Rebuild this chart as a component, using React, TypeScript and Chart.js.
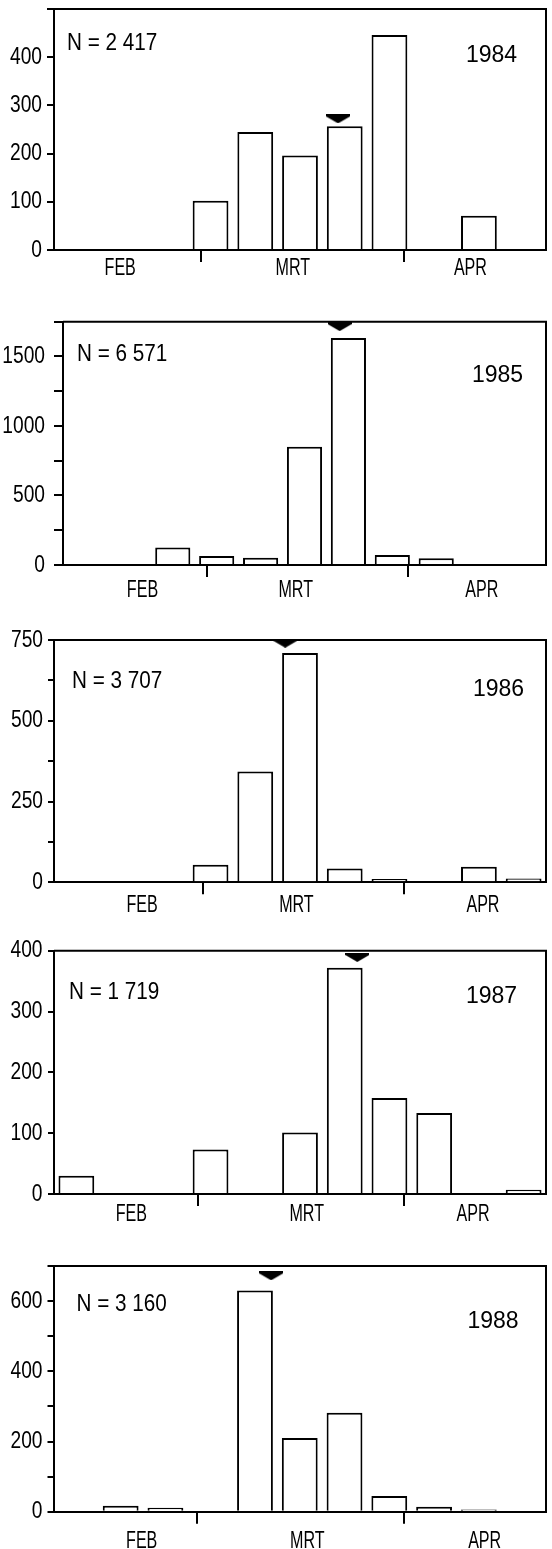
import React, { useEffect, useRef } from 'react';
import { Chart, registerables } from 'chart.js';

Chart.register(...registerables);

// ---------- data ----------
const weekSlots = [0, 1, 2, 3, 4, 5, 6, 7, 8, 9, 10];
const monthNames = ['FEB', 'MRT', 'APR'];
const years = ['1984', '1985', '1986', '1987', '1988'];
const totals = ['N = 2 417', 'N = 6 571', 'N = 3 707', 'N = 1 719', 'N = 3 160'];

const counts1984 = [0, 0, 0, 102, 245, 196, 257, 446, 0, 71, 0];
const counts1985 = [0, 0, 125, 65, 53, 850, 1633, 72, 48, 0, 0];
const counts1986 = [0, 0, 0, 54, 343, 710, 43, 10, 0, 48, 12];
const counts1987 = [30, 0, 0, 73, 0, 101, 372, 158, 133, 0, 7];
const counts1988 = [0, 17, 11, 0, 630, 210, 282, 45, 14, 6, 0];
const allCounts = [counts1984, counts1985, counts1986, counts1987, counts1988];

// arrow marker (position in week-slot units, level in counts)
const arrowSlot = [5.85, 5.8, 4.67, 6.28, 4.36];
const arrowLevel = [272, 1715, 740, 389, 672];

// y axes
const yMax = [500, 1750, 750, 400, 700];
const yTickStep = [100, 250, 125, 100, 100];
const yLabelStep = [100, 500, 250, 100, 200];
const yLabelMax = [400, 1500, 750, 400, 600];

// month axis: label positions and month boundaries (week-slot units)
const monthLabelSlots = [
  [0.98, 4.84, 8.81],
  [1.31, 4.8, 9.04],
  [1.47, 4.92, 9.09],
  [1.23, 5.15, 8.87],
  [1.47, 5.17, 9.13],
];
const monthBoundarySlots = [
  [2.79, 7.33],
  [2.77, 7.36],
  [2.83, 7.33],
  [2.71, 7.32],
  [2.71, 7.32],
];

// ---------- layout / style ----------
const panelLayout = [
  { top: 0, height: 295, areaTop: 9, areaBottom: 250, axisLeft: 54, yTickLen: 7, yPad: 5, xPad: -8, nDx: 13, nDy: 41, yrDx: 412, yrDy: 53 },
  { top: 295, height: 310, areaTop: 26.7, areaBottom: 270, axisLeft: 63, yTickLen: 9, yPad: 9, xPad: -1, nDx: 14, nDy: 39, yrDx: 409, yrDy: 60 },
  { top: 605, height: 315, areaTop: 35, areaBottom: 277.3, axisLeft: 54, yTickLen: 6, yPad: 5, xPad: -3, nDx: 18, nDy: 48, yrDx: 419, yrDy: 56 },
  { top: 920, height: 310, areaTop: 30.7, areaBottom: 274, axisLeft: 54, yTickLen: 6, yPad: 5.5, xPad: -6, nDx: 15, nDy: 48, yrDx: 412, yrDy: 52 },
  { top: 1230, height: 319, areaTop: 36, areaBottom: 281.7, axisLeft: 53.5, yTickLen: 6, yPad: 5, xPad: 3, nDx: 23, nDy: 45, yrDx: 414, yrDy: 62 },
];

const FONT = "'Liberation Sans', Arial, sans-serif";
const condenseFactor: Record<string, number> = { x: 0.67, y: 0.8 };

function makeArrow(w: number, h: number) {
  const c = document.createElement('canvas');
  c.width = w;
  c.height = h;
  const g = c.getContext('2d')!;
  g.fillStyle = '#000';
  g.beginPath();
  g.moveTo(0, 0);
  g.lineTo(w, 0);
  g.lineTo(w, 2);
  g.lineTo(w / 2, h);
  g.lineTo(0, 2);
  g.closePath();
  g.fill();
  return c;
}

// narrow (condensed) rendering of the axis tick labels, like the original typeface
const condensePlugin = {
  id: 'condense',
  afterUpdate(chart: any) {
    Object.values(chart.scales).forEach((scale: any) => {
      const k = condenseFactor[scale.id];
      if (!k || scale.__condensed) return;
      const proto = Object.getPrototypeOf(scale);
      scale.drawLabels = function (area: any) {
        const ctx = this.ctx;
        const fill = ctx.fillText;
        ctx.fillText = function (text: string, x: number, y: number, maxWidth?: number) {
          this.save();
          this.translate(x, y);
          this.scale(k, 1);
          if (maxWidth === undefined) fill.call(this, text, 0, 0);
          else fill.call(this, text, 0, 0, maxWidth / k);
          this.restore();
        };
        try {
          proto.drawLabels.call(this, area);
        } finally {
          ctx.fillText = fill;
        }
      };
      scale.__condensed = true;
    });
  },
};

const framePlugin = {
  id: 'frame',
  afterDatasetsDraw(chart: any) {
    const { ctx, chartArea: a } = chart;
    ctx.save();
    ctx.strokeStyle = '#000';
    ctx.lineWidth = 2;
    ctx.beginPath();
    ctx.moveTo(a.left, a.top);
    ctx.lineTo(a.right, a.top);
    ctx.lineTo(a.right, a.bottom);
    ctx.stroke();
    ctx.restore();
  },
};

const notesPlugin = {
  id: 'notes',
  afterDraw(chart: any, _args: any, opts: any) {
    const { ctx, chartArea: a } = chart;
    ctx.save();
    ctx.fillStyle = '#000';
    ctx.font = `23px ${FONT}`;
    ctx.textBaseline = 'alphabetic';
    ctx.textAlign = 'left';
    ctx.save();
    ctx.translate(a.left + opts.nDx, a.top + opts.nDy);
    ctx.scale(0.9, 1);
    ctx.fillText(opts.total, 0, 0);
    ctx.restore();
    ctx.fillText(opts.year, a.left + opts.yrDx, a.top + opts.yrDy);
    ctx.restore();
  },
};

function Panel({ idx }: { idx: number }) {
  const ref = useRef<HTMLCanvasElement | null>(null);
  const L = panelLayout[idx];

  useEffect(() => {
    const canvas = ref.current;
    if (!canvas) return;
    const counts = allCounts[idx];
    const labelSlots = monthLabelSlots[idx];
    const bounds = monthBoundarySlots[idx];
    const labelAt = new Map<number, string>();
    labelSlots.forEach((s, i) => labelAt.set(s, monthNames[i]));
    const xTicks = [...bounds, ...labelSlots].sort((a, b) => a - b);
    const yTicks: number[] = [];
    for (let v = 0; v <= yMax[idx] + 1e-9; v += yTickStep[idx]) yTicks.push(v);
    const arrow = makeArrow(24, 9);

    const chart = new Chart(canvas, {
      type: 'bar',
      data: {
        datasets: [
          {
            type: 'bar',
            data: weekSlots.map((s, i) => ({ x: s, y: counts[i] })),
            backgroundColor: '#ffffff',
            borderColor: '#000000',
            borderWidth: 2,
            borderSkipped: 'start',
            categoryPercentage: 1,
            barPercentage: 0.8,
          } as any,
          {
            type: 'scatter',
            data: [{ x: arrowSlot[idx], y: arrowLevel[idx] }],
            pointStyle: arrow,
            pointRadius: 6,
            pointBorderWidth: 0,
            showLine: false,
            clip: false,
          } as any,
        ],
      },
      options: {
        responsive: false,
        animation: false,
        devicePixelRatio: 1,
        events: [],
        layout: { padding: { top: L.areaTop, right: 1, bottom: 0, left: 0 } },
        plugins: {
          legend: { display: false },
          tooltip: { enabled: false },
          notes: { total: totals[idx], year: years[idx], nDx: L.nDx, nDy: L.nDy, yrDx: L.yrDx, yrDy: L.yrDy },
        } as any,
        scales: {
          x: {
            type: 'linear',
            min: -0.5,
            max: 10.5,
            offset: false,
            grid: {
              display: true,
              offset: false,
              drawOnChartArea: false,
              drawTicks: true,
              tickLength: 12,
              lineWidth: 2,
              tickColor: (c: any) => (c.tick && bounds.includes(c.tick.value) ? '#000' : 'rgba(0,0,0,0)'),
            },
            border: { display: true, color: '#000', width: 2 },
            ticks: {
              autoSkip: false,
              maxRotation: 0,
              minRotation: 0,
              padding: L.xPad,
              color: '#000',
              font: { family: FONT, size: 24 },
              callback: (v: any) => labelAt.get(Number(v)) ?? '',
            },
            afterBuildTicks: (s: any) => {
              s.ticks = xTicks.map((v) => ({ value: v }));
            },
            afterFit: (s: any) => {
              s.height = L.height - L.areaBottom;
              s.paddingLeft = 0;
              s.paddingRight = 0;
            },
          } as any,
          y: {
            type: 'linear',
            min: 0,
            max: yMax[idx],
            grid: {
              display: true,
              drawOnChartArea: false,
              drawTicks: true,
              tickLength: L.yTickLen,
              lineWidth: 2,
              color: '#000',
              tickColor: '#000',
            },
            border: { display: true, color: '#000', width: 2 },
            ticks: {
              autoSkip: false,
              padding: L.yPad,
              color: '#000',
              font: { family: FONT, size: 24 },
              callback: (v: any) => {
                const n = Number(v);
                return n % yLabelStep[idx] === 0 && n <= yLabelMax[idx] ? String(n) : '';
              },
            },
            afterBuildTicks: (s: any) => {
              s.ticks = yTicks.map((v) => ({ value: v }));
            },
            afterFit: (s: any) => {
              s.width = L.axisLeft;
              s.paddingTop = 0;
              s.paddingBottom = 0;
            },
          } as any,
        },
      },
      plugins: [condensePlugin, framePlugin, notesPlugin],
    });
    return () => chart.destroy();
  }, [idx]);

  return (
    <canvas
      ref={ref}
      width={552}
      height={L.height}
      style={{ position: 'absolute', left: 0, top: L.top, width: 552, height: L.height, display: 'block' }}
    />
  );
}

export default function App() {
  useEffect(() => {
    document.body.style.margin = '0';
    document.body.style.overflow = 'hidden';
    document.body.style.background = '#fff';
  }, []);
  return (
    <div style={{ position: 'relative', width: 552, height: 1549, background: '#fff', overflow: 'hidden' }}>
      {years.map((y, i) => (
        <Panel key={y} idx={i} />
      ))}
    </div>
  );
}
